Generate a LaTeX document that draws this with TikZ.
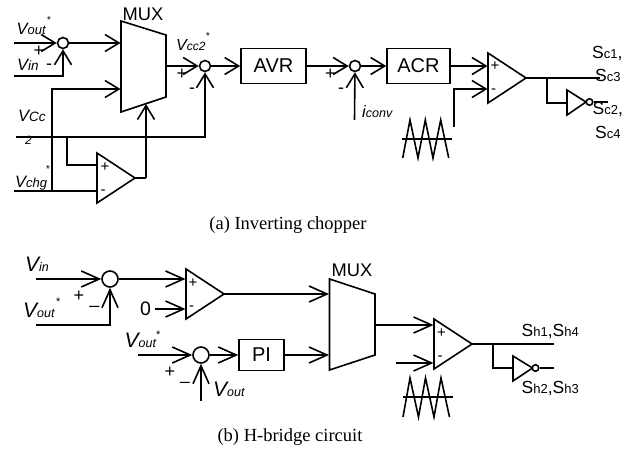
\documentclass[tikz,border=0pt]{standalone}
\usepackage{fontspec}
\setmainfont{Liberation Sans}
\newfontfamily\capfont{Liberation Serif}
\usetikzlibrary{arrows.meta}
\newcommand{\fs}[1]{\fontsize{#1}{#1}\selectfont}
\newcommand{\VT}[4]{{\fs{#1}\itshape #3\fs{#2}#4}}
\newcommand{\Sg}[2]{{\fs{17.5}S\fs{13}#1}{\fs{17.5}#2}}
\tikzset{
  wire/.style={line width=1.6pt,line join=miter},
  arr/.style={wire,-{Straight Barb[length=14pt,width=17pt,line width=1.6pt]}},
  arrb/.style={wire,-{Straight Barb[length=18pt,width=16pt,line width=1.6pt]}},
  sum/.style={circle,draw,line width=1.6pt,inner sep=0pt,minimum size=#1,fill=white},
  blk/.style={rectangle,draw,line width=1.6pt,inner sep=0pt,font=\fs{20}},
  shp/.style={line width=1.6pt,line join=miter,draw,fill=white},
  lab/.style={inner sep=0pt,anchor=base west},
  sgn/.style={inner sep=0pt,font=\fs{18}},
  sgi/.style={inner sep=0pt,font=\fs{15}},
  captxt/.style={inner sep=0pt,font=\capfont\fs{18.5}}
}
\begin{document}
\begin{tikzpicture}[x=1pt,y=-1pt]
\useasboundingbox (0,0) rectangle (634,449);
% ===== (a) =====
\node[sum=11pt] (s1) at (63,43) {};
\node[sum=11pt] (s2) at (205,66) {};
\node[sum=11pt] (s3) at (355,66) {};
\node[blk,minimum width=65pt,minimum height=35pt] (avr) at (273.5,66) {AVR};
\node[blk,minimum width=63pt,minimum height=35pt] (acr) at (418.5,66) {ACR};
\coordinate (mA) at (121,21); \coordinate (mB) at (166,35);
\coordinate (mC) at (166,97); \coordinate (mD) at (121,112);
\draw[shp] (mA)--(mB)--(mC)--(mD)--cycle;
\coordinate (c1a) at (97,153); \coordinate (c1t) at (135,178); \coordinate (c1b) at (97,203);
\draw[shp] (c1a)--(c1t)--(c1b)--cycle;
\coordinate (c2a) at (488,53); \coordinate (c2t) at (526,78); \coordinate (c2b) at (488,103);
\draw[shp] (c2a)--(c2t)--(c2b)--cycle;
\coordinate (i1a) at (567,90); \coordinate (i1t) at (586,102); \coordinate (i1b) at (567,115);
\draw[shp] (i1a)--(i1t)--(i1b)--cycle;
\node[sum=6.5pt] (b1) at (589.5,102) {};
% wires
\coordinate (vo) at (14,43); \coordinate (vi) at (14,76);
\draw[arr] (vo)--(s1);
\draw[arr] (vi)--(63,76)--(s1);
\draw[arr] (s1)--(120.5,43);
\coordinate (vch) at (14,191); \coordinate (vcc) at (16,137);
\draw[wire] (vch)--(97,191);
\draw[arr] (52,191)--(52,89)--(120.5,89);
\draw[arr] (vcc)--(205,137)--(s2);
\draw[wire] (67,137)--(67,165)--(97,165);
\draw[wire] (c1t)--(146,178);
\draw[arr] (146,178)--(146,104);
\draw[arr] (166,66)--(s2);
\draw[arr] (s2)--(avr);
\draw[arr] (avr)--(s3);
\draw[arr] (s3)--(acr);
\coordinate (ic) at (354.5,120);
\draw[arr] (ic)--(s3);
\draw[arr] (acr)--(487.5,66);
\draw[arr] (454,127)--(454,89)--(487.5,89);
\draw[wire] (c2t)--(600,78);
\draw[wire] (547,78)--(547,103)--(567,103);
\draw[wire] (b1)--(608,102);
% triangle wave
\draw[wire] (402.7,158)--(410,120)--(418,158)--(425.3,120)--(433,158)--(440.7,120)--(448.7,158);
\draw[wire] (402,139)--(452,139);
% signs
\node[sgn] (p1) at (39,51.5) {+};
\node[sgn] (m1) at (49,67) {-};
\node[sgn] (p2) at (182,74) {+};
\node[sgn] (m2) at (192,91) {-};
\node[sgn] (p3) at (330.5,74) {+};
\node[sgn] (m3) at (341,91) {-};
\node[sgi] (p4) at (105,167) {+};
\node[sgi] (m4) at (103,192) {-};
\node[sgi] (p5) at (495,66) {+};
\node[sgi] (m5) at (493.5,91) {-};
% labels
\node[lab] (l1) at (16.5,34.5) {\VT{16.5}{13}{V}{out}};
\node[lab] (l1s) at (46.5,24) {\fs{10}\itshape *};
\node[lab] (l2) at (17,70.5) {\VT{16.5}{13.5}{V}{in}};
\node[lab] (l3) at (176,50.5) {\VT{16}{12}{V}{cc2}};
\node[lab] (l3s) at (205.5,40) {\fs{10}\itshape *};
\node[lab] (l4) at (18,122) {\VT{16.5}{13.5}{V}{Cc}};
\node[lab] (l5) at (25,145) {\fs{12}\itshape 2};
\node[lab] (l6) at (15,187) {\VT{16.5}{13}{V}{chg}};
\node[lab] (l6s) at (45.5,173) {\fs{10}\itshape *};
\node[lab] (l7) at (122.5,21) {\fs{18.3}MUX};
\node[lab] (l8) at (362,117.5) {\VT{16.5}{12.5}{i}{conv}};
\node[lab] (l9) at (592,59) {\Sg{c1}{,}};
\node[lab] (l10) at (595,82) {\Sg{c3}{}};
\node[lab] (l11) at (592.5,115) {\Sg{c2}{,}};
\node[lab] (l12) at (595,138.5) {\Sg{c4}{}};
\node[captxt] (capa) at (288,225) {(a) Inverting chopper};
% ===== (b) =====
\node[sum=16pt] (s4) at (110,279) {};
\node[sum=16pt] (s5) at (201,355) {};
\node[blk,minimum width=45pt,minimum height=31pt] (pi) at (261.5,355) {PI};
\coordinate (m2A) at (329.5,279); \coordinate (m2B) at (375,294);
\coordinate (m2C) at (375,355); \coordinate (m2D) at (329.5,370);
\draw[shp] (m2A)--(m2B)--(m2C)--(m2D)--cycle;
\coordinate (c3a) at (186,269); \coordinate (c3t) at (224,294); \coordinate (c3b) at (186,319);
\draw[shp] (c3a)--(c3t)--(c3b)--cycle;
\coordinate (c4a) at (434,319); \coordinate (c4t) at (472,344); \coordinate (c4b) at (434,369);
\draw[shp] (c4a)--(c4t)--(c4b)--cycle;
\coordinate (i2a) at (513,356); \coordinate (i2t) at (532.5,368); \coordinate (i2b) at (513,381);
\draw[shp] (i2a)--(i2t)--(i2b)--cycle;
\node[sum=6.5pt] (b2) at (535.5,368) {};
\coordinate (vb1) at (36,279); \coordinate (vb2) at (36,325);
\draw[arrb] (vb1)--(s4);
\draw[arrb] (vb2)--(110,325)--(s4);
\draw[arrb] (s4)--(185.5,279);
\node[inner sep=0pt,font=\fs{19.5}] (zero) at (145.5,309) {0};
\draw[arrb] (zero)++(9,0)--(185.5,309);
\draw[arrb] (c3t)--(329,294);
\coordinate (vb3) at (138,355); \coordinate (vb4) at (201,400.5);
\draw[arrb] (vb3)--(s5);
\draw[arrb] (vb4)--(s5);
\draw[arrb] (s5)--(pi);
\draw[arrb] (pi)--(329,355);
\draw[arrb] (375,325)--(433.5,325);
\draw[arrb] (395.5,363)--(433.5,363);
\draw[wire] (c4t)--(554,344);
\draw[wire] (493,344)--(493,368)--(513,368);
\draw[wire] (b2)--(554,368);
\draw[wire] (403,417)--(410,378)--(418.5,417)--(425.5,378)--(434,417)--(441,378)--(449.5,417);
\draw[wire] (403,397)--(452.5,397);
% signs
\node[sgn] (p6) at (79,296.5) {+};
\node[sgn] (m6) at (94.5,309) {–};
\node[sgn] (p7) at (170,372.5) {+};
\node[sgn] (m7) at (185,385) {–};
\node[sgi] (p8) at (193,283) {+};
\node[sgi] (m8) at (191.5,308) {-};
\node[sgi] (p9) at (441.5,333.5) {+};
\node[sgi] (m9) at (440,358) {-};
% labels
\node[lab] (l20) at (25,271) {\VT{21}{12.5}{V}{in}};
\node[lab] (l21) at (23,317) {\VT{21}{12.5}{V}{out}};
\node[lab] (l21s) at (55.5,305) {\fs{11}\itshape *};
\node[lab] (l22) at (124.5,347) {\VT{21}{12.5}{V}{out}};
\node[lab] (l22s) at (155.5,338) {\fs{11}\itshape *};
\node[lab] (l23) at (213,396) {\VT{21}{12.5}{V}{out}};
\node[lab] (l24) at (331.5,276.5) {\fs{18.3}MUX};
\node[lab] (l25) at (521.5,336.5) {\Sg{h1}{,}\Sg{h4}{}};
\node[lab] (l26) at (521.5,393.5) {\Sg{h2}{,}\Sg{h3}{}};
\node[captxt] (capb) at (290,437) {(b) H-bridge circuit};
\end{tikzpicture}
\end{document}
